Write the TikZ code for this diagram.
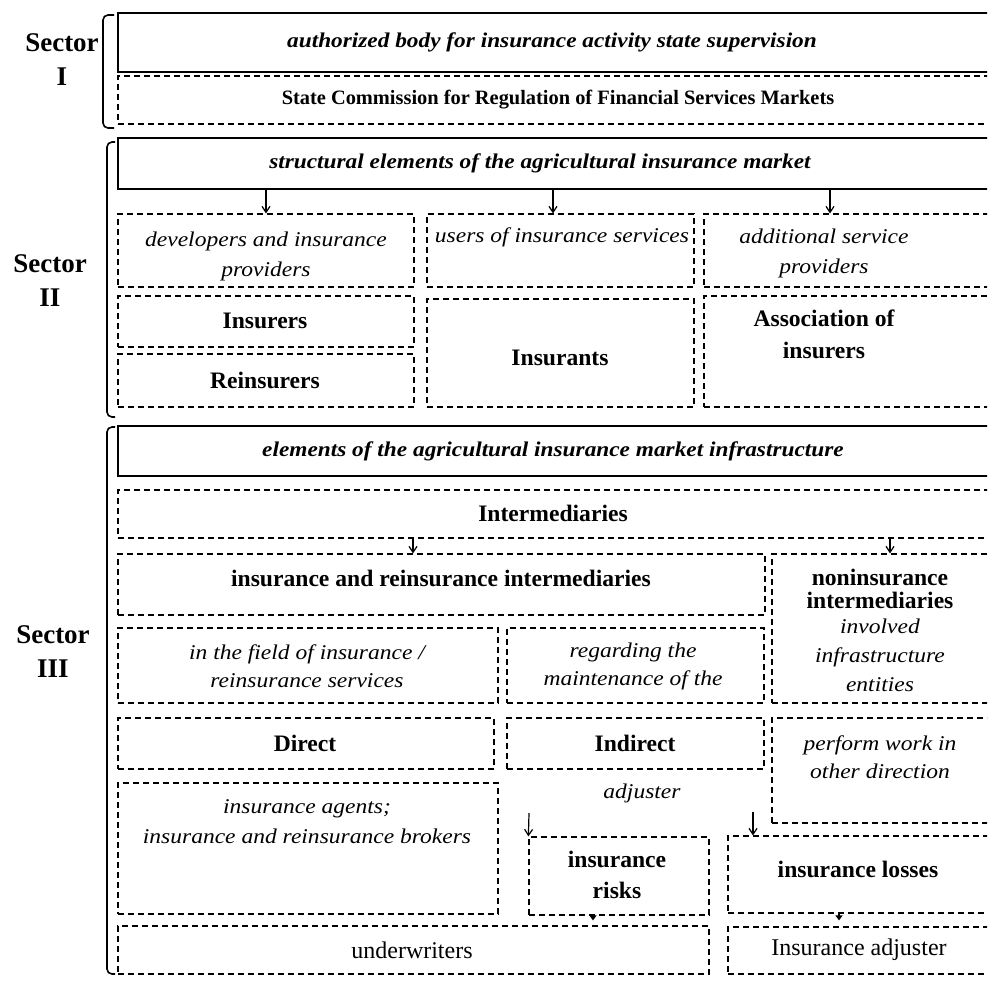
\documentclass[tikz,border=0pt]{standalone}
\usepackage{fontspec}
\setmainfont{Liberation Serif}[ItalicFeatures={FakeStretch=1.12},BoldItalicFeatures={FakeStretch=1.11}]
\usetikzlibrary{fit,arrows.meta}

\tikzset{
  x=0.5pt, y=-0.5pt,
  dbox/.style={draw, line width=0.6pt, dash pattern=on 3pt off 2pt, inner sep=0pt},
  sbox/.style={draw, line width=0.8pt, inner sep=0pt},
  txt/.style={inner sep=0pt, align=center, font=\fontsize{12}{15}\selectfont},
  bt/.style={txt, font=\fontsize{11.8}{15.5}\selectfont\bfseries},
  it/.style={txt, font=\fontsize{10.5}{15}\selectfont\itshape},
  bit/.style={txt, font=\fontsize{10.5}{15}\selectfont\bfseries\itshape},
  sectorlabel/.style={inner sep=0pt, align=center, font=\fontsize{13.5}{17}\selectfont\bfseries},
  bracket/.style={line width=0.8pt, rounded corners=2.5pt},
  arr/.style={line width=0.6pt, -{Straight Barb[length=3pt,width=4pt]}},
  tip/.style={line width=0.6pt, -{Triangle[length=2.5pt,width=3.5pt]}}
}

\begin{document}
\begin{tikzpicture}
\useasboundingbox (0,0) rectangle (987,992);
\clip (0,0) rectangle (987,992);

% ---------- Sector I ----------
\node[sectorlabel] (secI) at (62,60) {Sector\\I};
\draw[bracket] (114,15) -- (103,15) -- (103,128) -- (114,128);
\node[sbox, fit={(118,13) (1000,72)}] (supervision) {};
\node[bit] (supervisionT) at (552,42) {authorized body for insurance activity state supervision};
\node[dbox, fit={(118,76) (1000,124)}] (commission) {};
\node[bt, font=\fontsize{10.2}{14}\selectfont\bfseries] (commissionT) at (558,100) {State Commission for Regulation of Financial Services Markets};

% ---------- Sector II ----------
\node[sectorlabel] (secII) at (50,281) {Sector\\II};
\draw[bracket] (115,142) -- (107,142) -- (107,417) -- (115,417);
\node[sbox, fit={(118,138) (1000,189)}] (structural) {};
\node[bit] (structuralT) at (540,163) {structural elements of the agricultural insurance market};

\node[dbox, fit={(118,214) (414,287)}] (developers) {};
\node[it] (developersT) at (266,256) {developers and insurance\\providers};
\node[dbox, fit={(427,214) (694,287)}] (users) {};
\node[it] (usersT) at (562,237) {users of insurance services};
\node[dbox, fit={(704,214) (1000,287)}] (additional) {};
\node[it] (additionalT) at (824,253) {additional service\\providers};

\node[dbox, fit={(118,296) (414,347)}] (insurers) {};
\node[bt] (insurersT) at (265,321) {Insurers};
\node[dbox, fit={(118,354) (414,407)}] (reinsurers) {};
\node[bt] (reinsurersT) at (265,380) {Reinsurers};
\node[dbox, fit={(427,299) (694,407)}] (insurants) {};
\node[bt] (insurantsT) at (560,358) {Insurants};
\node[dbox, fit={(704,296) (1000,407)}] (association) {};
\node[bt, font=\fontsize{11.8}{16}\selectfont\bfseries] (associationT) at (824,334) {Association of\\insurers};

\draw[arr] (developers.north |- structural.south) -- (developers.north);
\draw[arr] ([xshift=-3.75pt]users.north |- structural.south) -- ([xshift=-3.75pt]users.north);
\draw[arr] ([xshift=-11pt]additional.north |- structural.south) -- ([xshift=-11pt]additional.north);

% ---------- Sector III ----------
\node[sectorlabel] (secIII) at (53,652) {Sector\\III};
\draw[bracket] (115,427) -- (107,427) -- (107,974) -- (115,974);
\node[sbox, fit={(118,426) (1000,476)}] (infrastructure) {};
\node[bit] (infrastructureT) at (553,451) {elements of the agricultural insurance market infrastructure};

\node[dbox, fit={(118,490) (1000,538)}] (intermediaries) {};
\node[bt] (intermediariesT) at (553,513) {Intermediaries};

\node[dbox, fit={(118,554) (765,615)}] (iri) {};
\node[bt] (iriT) at (441,578) {insurance and reinsurance intermediaries};
\node[dbox, fit={(772,554) (1000,703)}] (noninsurance) {};
\node[bt, font=\fontsize{11.8}{11.5}\selectfont\bfseries] (noninsuranceT) at (880,589) {noninsurance\\intermediaries};
\node[it, font=\fontsize{10.5}{14.5}\selectfont\itshape] (involvedT) at (880,655) {involved\\infrastructure\\entities};

\draw[arr] ([xshift=-14.25pt]iri.north |- intermediaries.south) -- ([xshift=-14.25pt]iri.north);
\draw[arr] ([xshift=2pt]noninsurance.north |- intermediaries.south) -- ([xshift=2pt]noninsurance.north);

\node[dbox, fit={(118,628) (498,703)}] (field) {};
\node[it, font=\fontsize{10.5}{14}\selectfont\itshape] (fieldT) at (307,666) {in the field of insurance /\\reinsurance services};
\node[dbox, fit={(507,628) (764,703)}] (regarding) {};
\node[it, font=\fontsize{10.5}{14}\selectfont\itshape] (regardingT) at (633,666) {regarding the\\maintenance of the};

\node[dbox, fit={(118,718) (494,769)}] (direct) {};
\node[bt] (directT) at (305,743) {Direct};
\node[dbox, fit={(507,718) (764,769)}] (indirect) {};
\node[bt] (indirectT) at (635,743) {Indirect};
\node[dbox, fit={(772,718) (1000,823)}] (perform) {};
\node[it, font=\fontsize{10.5}{14}\selectfont\itshape] (performT) at (880,757) {perform work in\\other direction};

\node[dbox, fit={(118,783) (498,914)}] (agents) {};
\node[it] (agentsT) at (307,822) {insurance agents;\\insurance and reinsurance brokers};

\node[it] (adjusterT) at (642,793) {adjuster};

\node[dbox, fit={(529,837) (709,915)}] (risks) {};
\node[bt] (risksT) at (617,875) {insurance\\risks};
\node[dbox, fit={(728,836) (1000,913)}] (losses) {};
\node[bt] (lossesT) at (858,869) {insurance losses};

\coordinate (riskIn) at (529,813);
\coordinate (lossIn) at (753,812);
\draw[arr] (riskIn) -- (risks.north west);
\draw[arr] (lossIn) -- (lossIn |- losses.north);

\node[dbox, fit={(118,926) (709,974)}] (underwriters) {};
\node[txt] (underwritersT) at (412,950) {underwriters};
\node[dbox, fit={(728,927) (1000,974)}] (adjuster) {};
\node[txt] (adjusterBoxT) at (859,950) {Insurance adjuster};

\draw[tip, shorten >=2.5pt] ([xshift=-13pt]risks.south) -- ([xshift=-13pt]risks.south |- underwriters.north);
\draw[tip, shorten >=3pt] ([xshift=-12.5pt]losses.south) -- ([xshift=-12.5pt]losses.south |- adjuster.north);
\end{tikzpicture}
\end{document}
